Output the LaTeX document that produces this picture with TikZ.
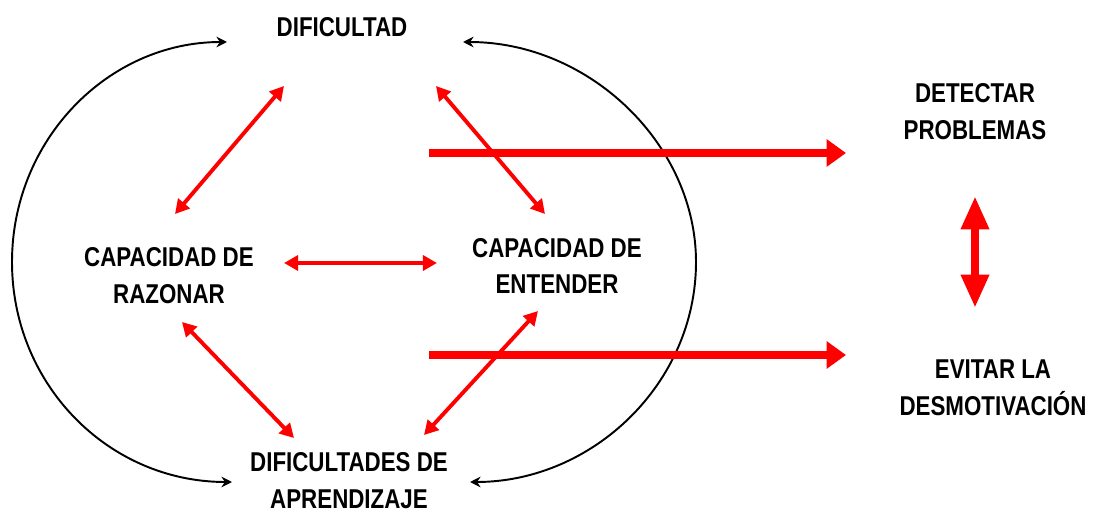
\documentclass[tikz,border=0pt]{standalone}
\usepackage{fontspec}
\setmainfont{Liberation Sans}[FakeStretch=0.82]
\usepackage{tikz}
\usetikzlibrary{arrows.meta}

\begin{document}
\begin{tikzpicture}[x=0.02cm, y=-0.02cm,
    testo/.style={font=\bfseries\fontsize{15.5}{21}\selectfont, align=center, inner sep=0pt},
    freccia/.style={red, line width=2.2pt, {Triangle[length=8pt,width=8.5pt]}-{Triangle[length=8pt,width=8.5pt]}},
    ciclo/.style={black, line width=1.1pt, {Stealth[length=6pt,width=6pt]}-{Stealth[length=6pt,width=6pt]}},
    grossa/.style={red, line width=4.8pt, -{Triangle[length=11pt,width=15pt]}},
    doppia/.style={red, line width=5pt, {Triangle[length=19pt,width=15pt]}-{Triangle[length=19pt,width=15pt]}}]
    \useasboundingbox (0,0) rectangle (1098,513);
    % Testi
    \node[testo] (dif) at (342,27) {DIFICULTAD};
    \node[testo] (raz) at (169,276) {CAPACIDAD DE\\RAZONAR};
    \node[testo] (ent) at (557,266) {CAPACIDAD DE\\ENTENDER};
    \node[testo] (apr) at (349,481) {DIFICULTADES DE\\APRENDIZAJE};
    \node[testo] (det) at (975,112) {DETECTAR\\PROBLEMAS};
    \node[testo] (evi) at (993,388) {EVITAR LA\\DESMOTIVACIÓN};
    % Estremi delle frecce
    \coordinate (r1) at (175,214);
    \coordinate (d1) at (284,86);
    \coordinate (d2) at (436,86);
    \coordinate (e1) at (545,214);
    \coordinate (r2) at (284,263);
    \coordinate (e2) at (437,263);
    \coordinate (r3) at (182,322);
    \coordinate (a1) at (294,438);
    \coordinate (e3) at (538,311);
    \coordinate (a2) at (424,435);
    \foreach \p/\q in {r1/d1, d2/e1, r2/e2, r3/a1, e3/a2}{
        \draw[freccia] (\p) -- (\q);
    }
    % Ciclo
    \coordinate (c1) at (227,42);
    \coordinate (c2) at (232,482);
    \coordinate (c3) at (463,42);
    \coordinate (c4) at (470,482);
    \draw[ciclo] (c1) .. controls (108,42) and (12,140) .. (12,262)
        .. controls (12,384) and (108,482) .. (c2);
    \draw[ciclo] (c3) .. controls (590,42) and (696,145) .. (696,262)
        .. controls (696,384) and (592,482) .. (c4);
    % Uscite
    \coordinate (s1) at (429,153);
    \coordinate (t1) at (846,153);
    \coordinate (s2) at (429,355);
    \coordinate (t2) at (846,355);
    \draw[grossa] (s1) -- (t1);
    \draw[grossa] (s2) -- (t2);
    \coordinate (v1) at (975,196);
    \coordinate (v2) at (975,308);
    \draw[doppia] (v1) -- (v2);
\end{tikzpicture}
\end{document}
